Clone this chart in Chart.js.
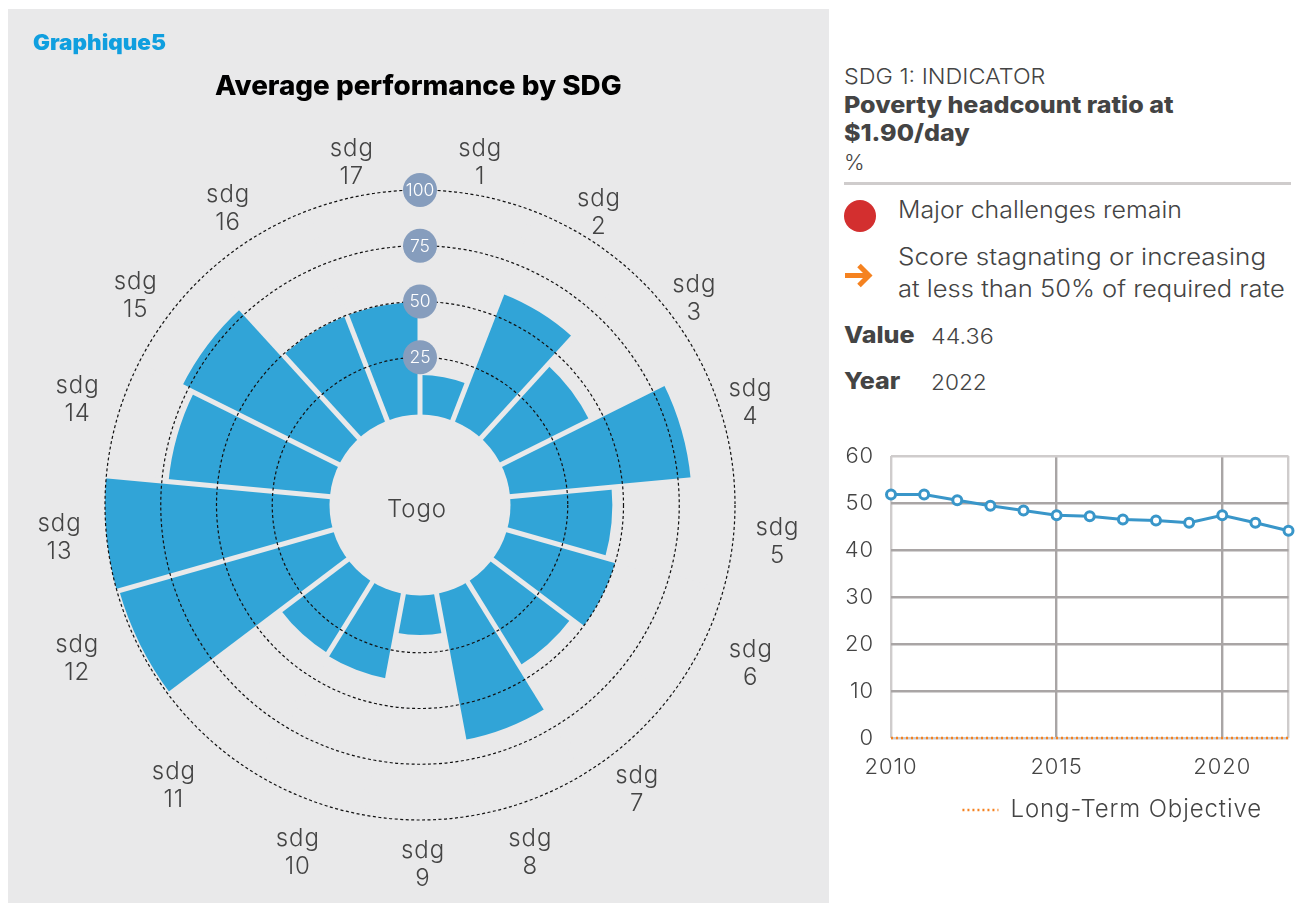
<!DOCTYPE html>
<html>
<head>
<meta charset="utf-8">
<script src="https://cdn.jsdelivr.net/npm/chart.js@4"></script>
<style>
html,body{margin:0;padding:0;background:#fff;width:1296px;height:903px;overflow:hidden;font-family:Inter,sans-serif;color:#444}
.t{position:absolute;white-space:nowrap;line-height:1;transform-origin:left center}
.b{font-weight:800}
#panel{position:absolute;left:8px;top:9px;width:821px;height:894px;background:#e9e9ea}
canvas{position:absolute;display:block}
#hr{position:absolute;left:844px;top:182px;width:447px;height:3px;background:#cfcccc}
#dot{position:absolute;left:844px;top:200px;width:32px;height:32px;border-radius:50%;background:#d32f2f}
</style>
</head>
<body>
<div id="panel"></div>
<canvas id="polar" width="821" height="894" style="left:8px;top:9px"></canvas>
<div class="t" style="left:33px;top:42px;font-size:21px;font-weight:900;color:#109fdf;transform:translateY(-50%) scaleX(1.07)">Graphique5</div>
<div class="t" style="left:215px;top:85px;font-size:27px;font-weight:800;color:#000;transform:translateY(-50%) scaleX(1.03)">Average performance by SDG</div>

<div class="t" style="left:844px;top:76px;font-size:22px;font-weight:300;transform:translateY(-50%) scaleX(1.06)">SDG 1: INDICATOR</div>
<div class="t b" style="left:844px;top:105px;font-size:23px;transform:translateY(-50%) scaleX(1.09)">Poverty headcount ratio at</div>
<div class="t b" style="left:844px;top:133px;font-size:23px;transform:translateY(-50%) scaleX(1.09)">$1.90/day</div>
<div class="t" style="left:844px;top:162px;font-size:22px;font-weight:300;transform:translateY(-50%)">%</div>
<div id="hr"></div>
<div id="dot"></div>
<div class="t" style="left:898px;top:210px;font-size:23.5px;font-weight:300;transform:translateY(-50%) scaleX(1.06)">Major challenges remain</div>
<svg style="position:absolute;left:844px;top:261px" width="29" height="28" viewBox="0 0 29 28"><path d="M1 14.5H25M15 4.5L25 14.5L15 24.5" fill="none" stroke="#f58220" stroke-width="5"/></svg>
<div class="t" style="left:898px;top:257px;font-size:23.5px;font-weight:300;transform:translateY(-50%) scaleX(1.108)">Score stagnating or increasing</div>
<div class="t" style="left:898px;top:289px;font-size:23.5px;font-weight:300;transform:translateY(-50%) scaleX(1.087)">at less than 50% of required rate</div>
<div class="t b" style="left:844px;top:335px;font-size:23px;transform:translateY(-50%) scaleX(1.09)">Value</div>
<div class="t" style="left:931px;top:336px;font-size:22px;font-weight:300;transform:translateY(-50%) scaleX(1.06)">44.36</div>
<div class="t b" style="left:844px;top:381px;font-size:23px;transform:translateY(-50%) scaleX(1.09)">Year</div>
<div class="t" style="left:931px;top:382px;font-size:22px;font-weight:300;transform:translateY(-50%) scaleX(1.03)">2022</div>

<canvas id="line" width="456" height="400" style="left:840px;top:440px"></canvas>

<script>
// ---- data ----
const sdgLabels = ['sdg 1','sdg 2','sdg 3','sdg 4','sdg 5','sdg 6','sdg 7','sdg 8','sdg 9','sdg 10','sdg 11','sdg 12','sdg 13','sdg 14','sdg 15','sdg 16','sdg 17'];
const sdgScores = [17, 60.5, 43.7, 80.7, 45, 50, 43.5, 66, 17, 38, 37, 99, 100, 72, 78, 49.7, 49.7];
const radialTicks = [25, 50, 75, 100];
const years = [2010,2011,2012,2013,2014,2015,2016,2017,2018,2019,2020,2021,2022];
const headcount = [51.8,51.8,50.6,49.4,48.4,47.4,47.2,46.5,46.3,45.8,47.4,45.8,44.1];
const objective = [0,0,0,0,0,0,0,0,0,0,0,0,0];
const yearTicks = [2010,2015,2020,2022];

// ---- layout (label nudges around the ring, px) ----
const labelNudge = [[-5,7],[-8,10],[-9,8],[-11,-5],[4,4],[13,1],[-22,22],[-18,17],[3,5],[6,17],[-7,18],[-25,-4],[-7,0],[-1,-8],[-1,5],[-5,6],[-3,7]];
const PANEL = '#e9e9ea', INK = '#444444', FONT = 'Inter, sans-serif';

const ringDecor = {
  id: 'ringDecor',
  afterDatasetsDraw(chart) {
    const s = chart.scales.r, c = chart.ctx, arcs = chart.getDatasetMeta(0).data;
    c.save();
    c.strokeStyle = PANEL; c.lineWidth = 5;
    const far = s.getDistanceFromCenterForValue(100) + 4;
    arcs.forEach(a => {
      c.beginPath();
      c.moveTo(s.xCenter, s.yCenter);
      c.lineTo(s.xCenter + far * Math.cos(a.startAngle), s.yCenter + far * Math.sin(a.startAngle));
      c.stroke();
    });
    c.fillStyle = PANEL;
    c.beginPath();
    c.arc(s.xCenter, s.yCenter, s.getDistanceFromCenterForValue(0) - 1.5, 0, Math.PI * 2);
    c.fill();
    c.restore();
  },
  afterDraw(chart) {
    const s = chart.scales.r, c = chart.ctx;
    c.save();
    c.textAlign = 'center'; c.textBaseline = 'middle';
    radialTicks.forEach(v => {
      const y = s.yCenter - s.getDistanceFromCenterForValue(v);
      c.fillStyle = '#869dbd';
      c.beginPath(); c.arc(s.xCenter, y, 17, 0, Math.PI * 2); c.fill();
      c.fillStyle = '#fff';
      c.font = '300 17.5px ' + FONT;
      c.fillText(String(v), s.xCenter, y + 0.5);
    });
    c.fillStyle = INK;
    c.font = '300 24px ' + FONT;
    c.letterSpacing = '0.9px';
    c.fillText('Togo', s.xCenter - 3, s.yCenter + 5);
    const half = Math.PI / sdgLabels.length;
    sdgLabels.forEach((t, i) => {
      const p = s.getPointPosition(i, 355, half);
      const x = p.x + labelNudge[i][0], y = p.y + labelNudge[i][1];
      const parts = t.split(' ');
      c.fillText(parts[0], x, y - 14);
      c.fillText(parts[1], x, y + 14);
    });
    c.restore();
  }
};

new Chart(document.getElementById('polar'), {
  type: 'polarArea',
  plugins: [ringDecor],
  data: { labels: sdgLabels, datasets: [{ data: sdgScores, backgroundColor: '#31a4d7', borderWidth: 0 }] },
  options: {
    responsive: false, animation: false,
    layout: { padding: { left: 97, right: 94, top: 181, bottom: 83 } },
    plugins: { legend: { display: false }, tooltip: { enabled: false } },
    scales: { r: {
      min: -41.26, max: 100,
      afterBuildTicks(s) { s.ticks = radialTicks.map(v => ({ value: v })); },
      ticks: { display: false },
      pointLabels: { display: false },
      grid: { circular: true, color: '#111', lineWidth: 1.2, z: 1 },
      border: { dash: [3, 2.5] }
    } }
  }
});

const GRID_D = '#a9a5a5', GRID_L = '#cfcccc';
const zeroPad = s => { s.paddingTop = 0; s.paddingBottom = 0; s.paddingLeft = 0; s.paddingRight = 0; };
const spacing = { id: 'spacing',
  beforeUpdate(ch) { ch.ctx.letterSpacing = '0.9px'; },
  afterLayout(ch) { ch.legend.right -= 9; },
  beforeDraw(ch) { ch.ctx.letterSpacing = '0.9px'; } };
new Chart(document.getElementById('line'), {
  type: 'line',
  plugins: [spacing],
  data: { labels: years, datasets: [
    { label: 'Long-Term Objective', data: years.map((y, i) => ({ x: y, y: objective[i] })), borderColor: '#f58220', backgroundColor: '#f58220', borderWidth: 2.4, borderDash: [2, 3], pointRadius: 0, clip: false, order: 2 },
    { label: 'Poverty headcount ratio at $1.90/day', data: years.map((y, i) => ({ x: y, y: headcount[i] })), borderColor: '#3996c9', borderWidth: 3, pointRadius: 4.5, pointBorderWidth: 3, pointBackgroundColor: '#fff', pointBorderColor: '#3996c9', tension: 0, clip: false, order: 1 }
  ] },
  options: {
    responsive: false, animation: false,
    layout: { padding: { left: 0, right: 6, top: 16, bottom: 8 } },
    plugins: {
      tooltip: { enabled: false },
      legend: { position: 'bottom', align: 'end', labels: {
        generateLabels(ch) {
          return Chart.defaults.plugins.legend.labels.generateLabels(ch).map(it => {
            if (it.text === 'Long-Term Objective') { it.lineDash = [2, 3]; it.lineWidth = 2.4; it.strokeStyle = '#f58220'; }
            return it;
          });
        },
        filter: it => it.text === 'Long-Term Objective',
        usePointStyle: true, pointStyle: 'line', pointStyleWidth: 36,
        color: INK, font: { family: FONT, size: 24, weight: '300' }, padding: 19
      } }
    },
    scales: {
      x: { type: 'linear', min: 2010, max: 2022,
        afterBuildTicks(s) { s.ticks = yearTicks.map(v => ({ value: v })); },
        afterFit(s) { s.height = 41; zeroPad(s); },
        ticks: { autoSkip: false, maxRotation: 0, color: INK, padding: 16, font: { family: FONT, size: 22, weight: '300' },
          callback: v => v === 2022 ? '' : String(v) },
        grid: { drawTicks: false, lineWidth: 2.4, color: c => (c.tick && (c.tick.value === 2010 || c.tick.value === 2022)) ? GRID_L : GRID_D },
        border: { display: false } },
      y: { min: 0, max: 60,
        afterFit(s) { s.width = 51; zeroPad(s); },
        ticks: { stepSize: 10, color: INK, padding: 17, font: { family: FONT, size: 22, weight: '300' } },
        grid: { drawTicks: false, lineWidth: 2.4, color: c => (c.tick && (c.tick.value === 60 || c.tick.value === 0)) ? GRID_L : GRID_D },
        border: { display: false } }
    }
  }
});
</script>
</body>
</html>
